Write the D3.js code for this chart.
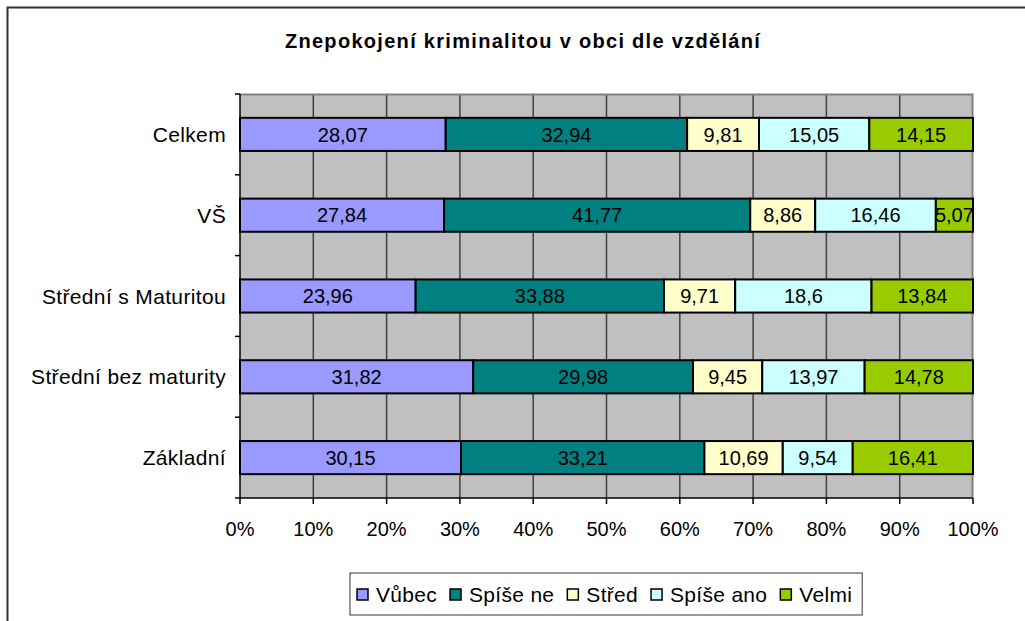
<!DOCTYPE html>
<html>
<head>
<meta charset="utf-8">
<script src="https://cdn.jsdelivr.net/npm/d3@7"></script>
<style>
  body { margin: 0; background: #fff; }
  text { font-family: "Liberation Sans", Arial, sans-serif; fill: #000; }
</style>
</head>
<body>
<div id="chart"></div>
<script>
// data
var categories = ["Celkem", "VŠ", "Střední s Maturitou", "Střední bez maturity", "Základní"];
var seriesNames = ["Vůbec", "Spíše ne", "Střed", "Spíše ano", "Velmi"];
var vubec    = [28.07, 27.84, 23.96, 31.82, 30.15];
var spiseNe  = [32.94, 41.77, 33.88, 29.98, 33.21];
var stred    = [9.81, 8.86, 9.71, 9.45, 10.69];
var spiseAno = [15.05, 16.46, 18.6, 13.97, 9.54];
var velmi    = [14.15, 5.07, 13.84, 14.78, 16.41];
var xTicks = [0, 0.1, 0.2, 0.3, 0.4, 0.5, 0.6, 0.7, 0.8, 0.9, 1];

var colors = ["#9999ff", "#008080", "#ffffcc", "#ccffff", "#99cc00"];
var seriesVals = [vubec, spiseNe, stred, spiseAno, velmi];

var width = 1025, height = 621;
var margin = {left: 240, right: 52, top: 94, bottom: 123};
var w = width - margin.left - margin.right;
var h = height - margin.top - margin.bottom;

var svg = d3.select("#chart").append("svg")
  .attr("width", width)
  .attr("height", height);

// outer chart border (only top/left are visible in frame)
svg.append("rect")
  .attr("x", 7.5).attr("y", 7.5)
  .attr("width", 1100).attr("height", 700)
  .attr("fill", "none").attr("stroke", "#333").attr("stroke-width", 2);

svg.append("text")
  .attr("x", 523).attr("y", 48)
  .attr("text-anchor", "middle")
  .style("font-size", "20px").style("font-weight", "bold")
  .style("letter-spacing", "1.3px")
  .text("Znepokojení kriminalitou v obci dle vzdělání");

var g = svg.append("g").attr("transform", "translate(" + margin.left + "," + margin.top + ")");

var x = d3.scaleLinear().domain([0, 1]).range([0, w]);
var y = d3.scaleBand().domain(categories).range([0, h]).paddingInner(0.59).paddingOuter(0.295);
var yOuter = d3.scaleBand().domain(categories).range([0, h]);

// plot background
g.append("rect").attr("width", w).attr("height", h).attr("fill", "#c0c0c0");

// grid
g.selectAll(".grid").data(xTicks.slice(1, -1)).enter().append("line")
  .attr("x1", d => x(d)).attr("x2", d => x(d))
  .attr("y1", 0).attr("y2", h)
  .attr("stroke", "#404040").attr("stroke-width", 1.5);

// plot border top/right
g.append("path")
  .attr("d", "M0,0.5H" + (w - 0.5) + "V" + h)
  .attr("fill", "none").attr("stroke", "#808080").attr("stroke-width", 2);

// stacked bars
var rows = categories.map((c, i) => {
  var tot = d3.sum(seriesVals, s => s[i]);
  var acc = 0;
  return seriesVals.map((s, k) => {
    var r = {cat: c, k: k, v: s[i], x0: acc / tot, x1: (acc + s[i]) / tot};
    acc += s[i];
    return r;
  });
}).flat();

g.selectAll(".bar").data(rows).enter().append("rect")
  .attr("x", d => x(d.x0))
  .attr("y", d => y(d.cat))
  .attr("width", d => x(d.x1) - x(d.x0))
  .attr("height", y.bandwidth())
  .attr("fill", d => colors[d.k])
  .attr("stroke", "#000").attr("stroke-width", 2);

g.selectAll(".lbl").data(rows).enter().append("text")
  .attr("x", d => (x(d.x0) + x(d.x1)) / 2)
  .attr("y", d => y(d.cat) + y.bandwidth() / 2)
  .attr("dy", "0.36em")
  .attr("text-anchor", "middle")
  .style("font-size", "20px")
  .text(d => String(d.v).replace(".", ","));

// left axis
var bounds = categories.map(c => yOuter(c)).concat([h]);
g.append("line").attr("x1", 0).attr("x2", 0).attr("y1", 0).attr("y2", h)
  .attr("stroke", "#000").attr("stroke-width", 1.5);
g.selectAll(".ytick").data(bounds).enter().append("line")
  .attr("x1", -5).attr("x2", 0).attr("y1", d => d).attr("y2", d => d)
  .attr("stroke", "#000").attr("stroke-width", 1.5);
g.selectAll(".ylbl").data(categories).enter().append("text")
  .attr("x", -14)
  .attr("y", d => yOuter(d) + yOuter.bandwidth() / 2)
  .attr("dy", "0.36em")
  .attr("text-anchor", "end")
  .style("font-size", "21px")
  .style("letter-spacing", "0.35px")
  .text(d => d);

// bottom axis
g.append("line").attr("x1", 0).attr("x2", w).attr("y1", h).attr("y2", h)
  .attr("stroke", "#000").attr("stroke-width", 1.5);
g.selectAll(".xtick").data(xTicks).enter().append("line")
  .attr("x1", d => x(d)).attr("x2", d => x(d)).attr("y1", h).attr("y2", h + 6)
  .attr("stroke", "#000").attr("stroke-width", 1.5);
g.selectAll(".xlbl").data(xTicks).enter().append("text")
  .attr("x", d => x(d))
  .attr("y", h + 38)
  .attr("text-anchor", "middle")
  .style("font-size", "20px")
  .text(d => d3.format(".0%")(d));

// legend
var leg = svg.append("g").attr("transform", "translate(350,573)");
var legBox = leg.append("rect").attr("height", 42).attr("fill", "#fff")
  .attr("stroke", "#333").attr("stroke-width", 1);
var lx = 7;
seriesNames.forEach((name, k) => {
  leg.append("rect").attr("x", lx).attr("y", 16).attr("width", 11).attr("height", 11)
    .attr("fill", colors[k]).attr("stroke", "#000").attr("stroke-width", 1.5);
  var t = leg.append("text").attr("x", lx + 19).attr("y", 29)
    .style("font-size", "21px").style("letter-spacing", "0.3px").text(name);
  lx += 19 + t.node().getComputedTextLength() + 13;
});
legBox.attr("width", Math.max(lx - 3, 400));
</script>
</body>
</html>
